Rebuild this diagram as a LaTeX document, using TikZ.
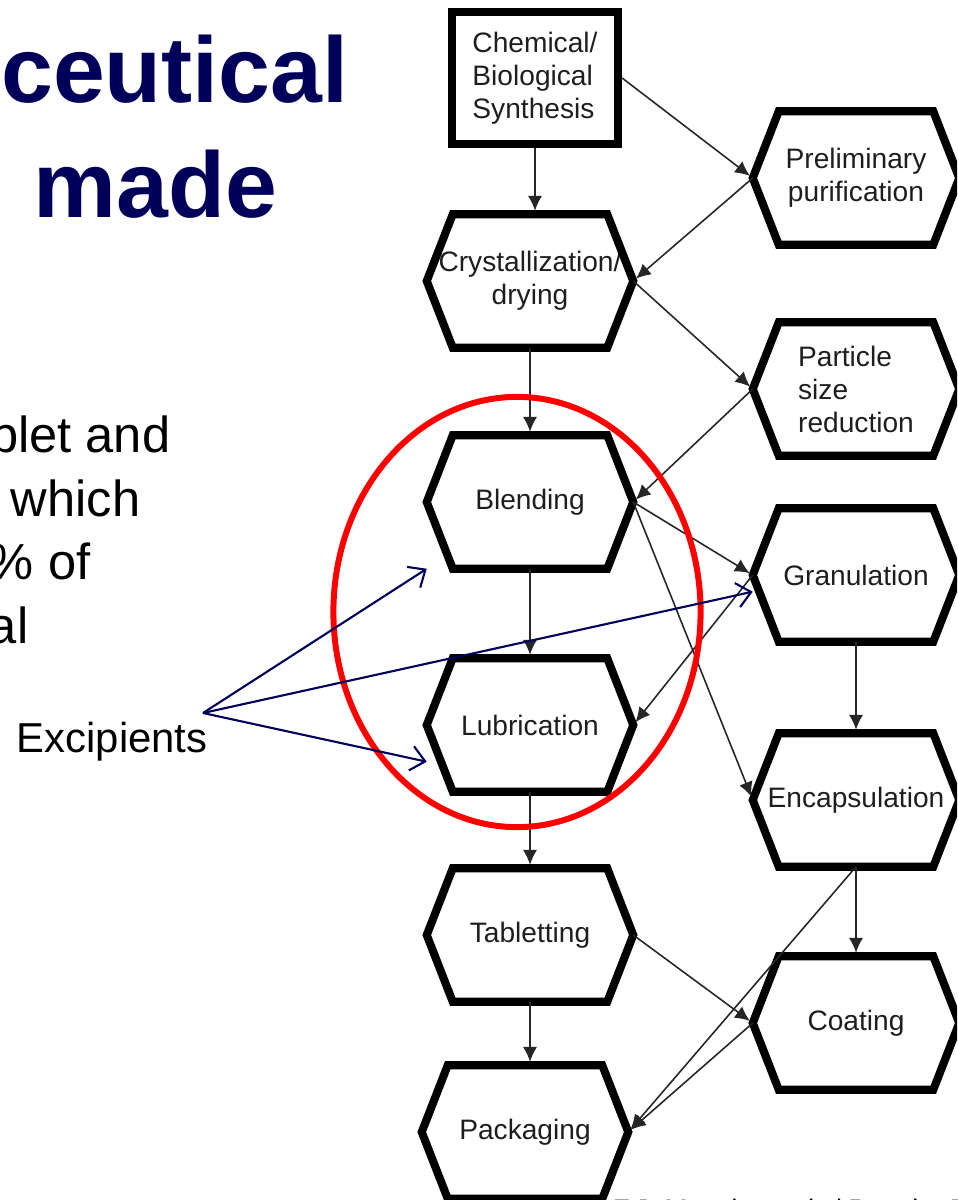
\documentclass[tikz,border=0pt]{standalone}
\usepackage{fontspec}
\setmainfont{Liberation Sans}
\usetikzlibrary{arrows.meta,calc}

\definecolor{navy}{RGB}{0,0,90}
\definecolor{ink}{RGB}{30,30,30}
\newcommand{\chartfont}{\fontsize{8pt}{9.4pt}\selectfont}

\tikzset{
  title/.style={font=\fontsize{26.5pt}{30pt}\selectfont\bfseries, text=navy, inner sep=0pt, anchor=base east},
  body/.style={font=\fontsize{14.4pt}{17pt}\selectfont, inner sep=0pt, anchor=base east},
  source/.style={rectangle, draw=black, line width=2.3pt, minimum width=1.66cm, minimum height=1.32cm,
    inner sep=0pt, font=\chartfont, text=ink, align=left},
  stage/.style={rectangle, minimum width=2.05cm, minimum height=1.32cm, inner sep=0pt,
    font=\chartfont, text=ink, align=center},
  hexline/.style={draw=black, line width=2.3pt, line join=miter},
  flow/.style={-{Latex[length=4.2pt,width=4pt]}, line width=0.45pt, black!85, shorten >=1pt},
  pointer/.style={-{Straight Barb[length=4pt,width=7pt]}, line width=0.6pt, navy},
}

\begin{document}
\begin{tikzpicture}[x=0.01cm, y=-0.01cm]
    \useasboundingbox (0,0) rectangle (957,1200);
    \clip (0,0) rectangle (957,1200);

    % slide text, cut at the left edge
    \node[title] at (349,102) (t1) {ceutical};
    \node[title] at (278,217) (t2) {made};
    \node[body] at (171,452) (b1) {blet and};
    \node[body] at (141,516) (b2) {which};
    \node[body] at (91,579) (b3) {\% of};
    \node[body] at (29,643) (b4) {al};
    \node[font=\fontsize{11.9pt}{14pt}\selectfont, inner sep=0pt, anchor=base west] at (16,752) (exc) {Excipients};
    \node[font=\chartfont, inner sep=0pt, anchor=base west] at (612,1219) (cite) {F.J. Muzzio et al. / Powder Technology};

    % process chart
    \node[source] at (535,78) (synth) {Chemical/\\Biological\\Synthesis};
    \node[stage] at (530,281) (cryst) {Crystallization/\\drying};
    \node[stage] at (530,502) (blend) {Blending};
    \node[stage] at (530,725) (lub) {Lubrication};
    \node[stage] at (530,935) (tab) {Tabletting};
    \node[stage] at (525,1132) (pack) {Packaging};
    \node[stage] at (856,178) (prelim) {Preliminary\\purification};
    \node[stage, align=left] at (856,389) (particle) {Particle\\size\\reduction};
    \node[stage] at (856,575) (gran) {Granulation};
    \node[stage] at (856,800) (encap) {Encapsulation};
    \node[stage] at (856,1023) (coat) {Coating};

    \foreach \n in {cryst,blend,lub,tab,pack,prelim,particle,gran,encap,coat}
      \draw[hexline] (\n.west) -- ($(\n.north west)+(26,0)$) -- ($(\n.north east)+(-26,0)$)
        -- (\n.east) -- ($(\n.south east)+(-26,0)$) -- ($(\n.south west)+(26,0)$) -- cycle;

    \path[flow] (synth.south) edge (synth.south |- cryst.north)
      (synth.east) edge (prelim.west)
      (prelim.west) edge (cryst.east)
      (cryst.east) edge (particle.west)
      (particle.west) edge (blend.east)
      (cryst.south) edge (blend.north)
      (blend.east) edge (gran.west)
      (blend.east) edge (encap.west)
      (gran.west) edge (lub.east)
      (blend.south) edge (lub.north)
      (gran.south) edge (encap.north)
      (lub.south) edge (tab.north)
      (encap.south) edge (coat.north)
      (encap.south) edge (pack.east)
      (tab.east) edge (coat.west)
      (coat.west) edge (pack.east)
      (tab.south) edge (tab.south |- pack.north);

    % excipients and the circled steps
    \coordinate (src) at (203,713);
    \draw[red, line width=1.7pt] (517,612) ellipse [x radius=1.835cm, y radius=2.15cm];
    \path[pointer] (src) edge (blend.south west)
      (src) edge ($(gran.west)!0.25!(gran.south west)$)
      (src) edge ($(lub.west)!0.55!(lub.south west)$);
\end{tikzpicture}
\end{document}
